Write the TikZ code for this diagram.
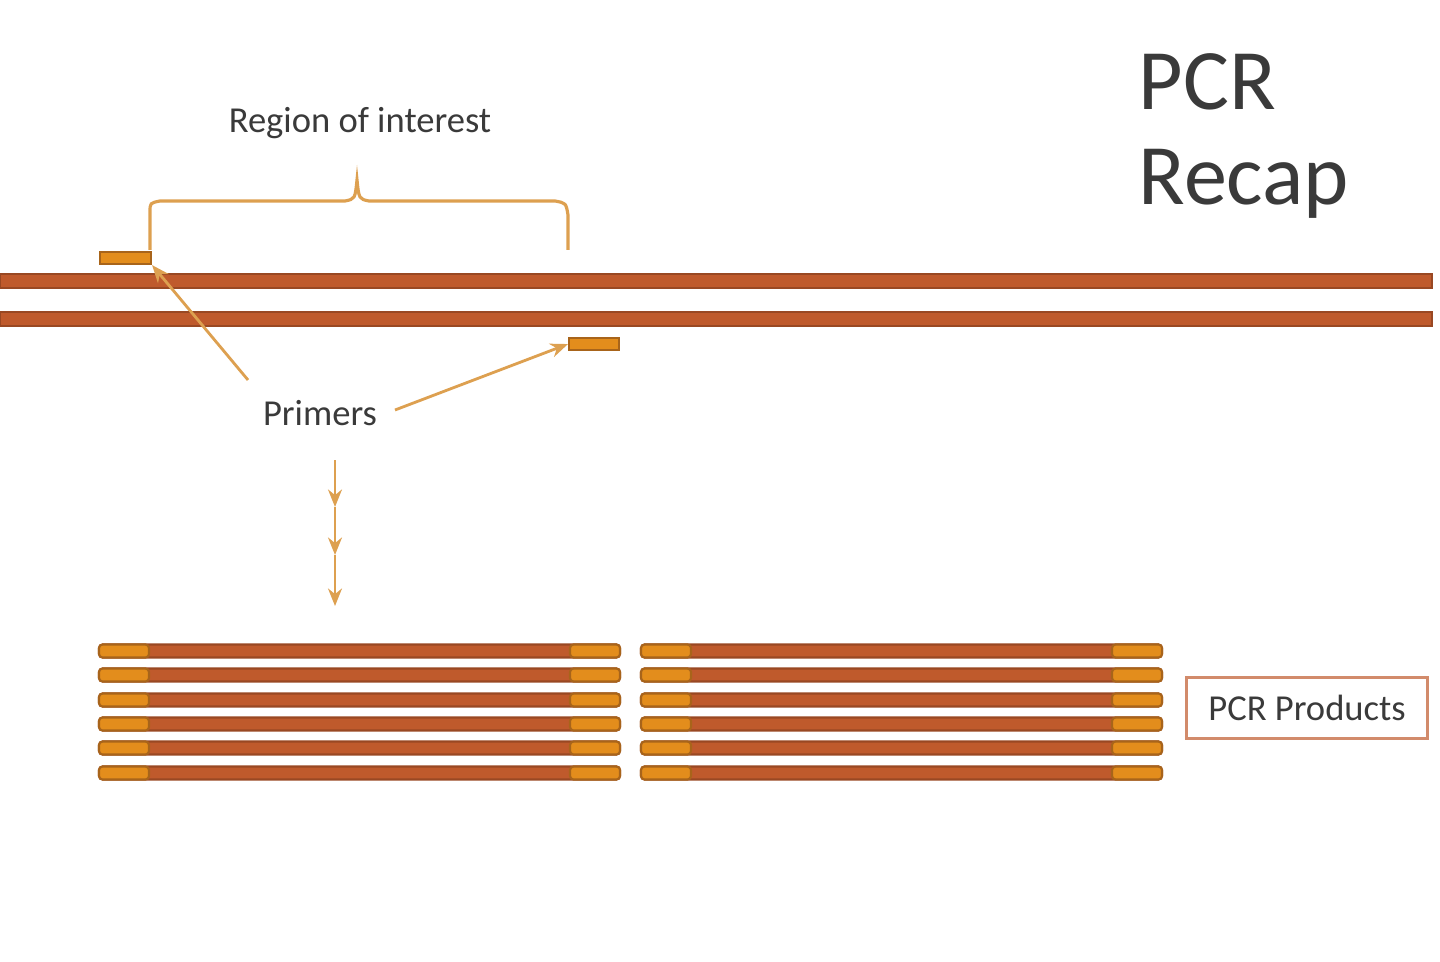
\documentclass[tikz,border=0pt]{standalone}
\usepackage{fontspec}
\setmainfont{Carlito}
\usetikzlibrary{arrows.meta}
\definecolor{strand}{HTML}{BF5A2C}
\definecolor{primer}{HTML}{E38D1C}
\definecolor{primerb}{HTML}{A8641A}
\definecolor{lineor}{HTML}{DDA050}
\definecolor{txt}{HTML}{3A3A3A}
\tikzset{
 strandbar/.style={fill=strand,draw=strand!80!black,line width=0.6pt},
 primerbox/.style={fill=primer,draw=primerb,line width=0.6pt},
 pointer/.style={draw=lineor,line width=0.8pt,-{Stealth[length=5pt,width=4pt]}},
 lbl/.style={text=txt,font=\fontsize{10.4pt}{12pt}\selectfont},
}
\newcommand{\product}[2]{%
 \draw[strandbar,rounded corners=1pt] (#1,#2-6.5) rectangle (#1+521,#2+6.5);
 \draw[primerbox,rounded corners=1pt] (#1,#2-6.5) rectangle (#1+50,#2+6.5);
 \draw[primerbox,rounded corners=1pt] (#1+471,#2-6.5) rectangle (#1+521,#2+6.5);}
\begin{document}
\begin{tikzpicture}[x=0.01cm,y=-0.01cm]
\useasboundingbox (0,0) rectangle (1440,961);
\draw[strandbar] (0,274) rectangle (1432,288);
\draw[strandbar] (0,312) rectangle (1432,326);
\node[primerbox,minimum width=51*0.01cm,minimum height=12*0.01cm,inner sep=0,anchor=north west] (p1) at (99,251) {};
\node[primerbox,minimum width=50*0.01cm,minimum height=12*0.01cm,inner sep=0,anchor=north west] (p2) at (568,337) {};
\draw[lineor,line width=0.9pt] (150,250) -- (150,212) .. controls (150,203) .. (160,201) -- (345,201) .. controls (355,199) .. (357,180) .. controls (359,199) .. (369,201) -- (555,201) .. controls (566,203) .. (568,215) -- (568,250);
\node[lbl] (roi) at (360,123) {Region of interest};
\node[text=txt,font=\fontsize{24.5pt}{28pt}\selectfont,anchor=north west,align=left,inner sep=0] (title) at (1138,53) {PCR\\[-1pt]Recap};
\node[lbl] (prim) at (320,413) {Primers};
\coordinate (a1) at (248,380);
\coordinate (a2) at (395,410);
\draw[pointer] (a1) -- (p1.south east);
\draw[pointer] (a2) -- (p2.west);
\coordinate (v0) at (335,460);
\coordinate (v1) at (335,507);
\coordinate (v2) at (335,555);
\coordinate (v3) at (335,606);
\draw[pointer,line width=0.6pt] (v0) -- (v1);
\draw[pointer,line width=0.6pt] (v1) -- (v2);
\draw[pointer,line width=0.6pt] (v2) -- (v3);
\foreach \yy in {651,675,700,724,748,773}{\product{99}{\yy}\product{641}{\yy}}
\node[draw=strand!70!white,line width=0.6pt,minimum width=241*0.01cm,minimum height=61*0.01cm,lbl] (pp) at (1307,708) {PCR Products};
\end{tikzpicture}
\end{document}
